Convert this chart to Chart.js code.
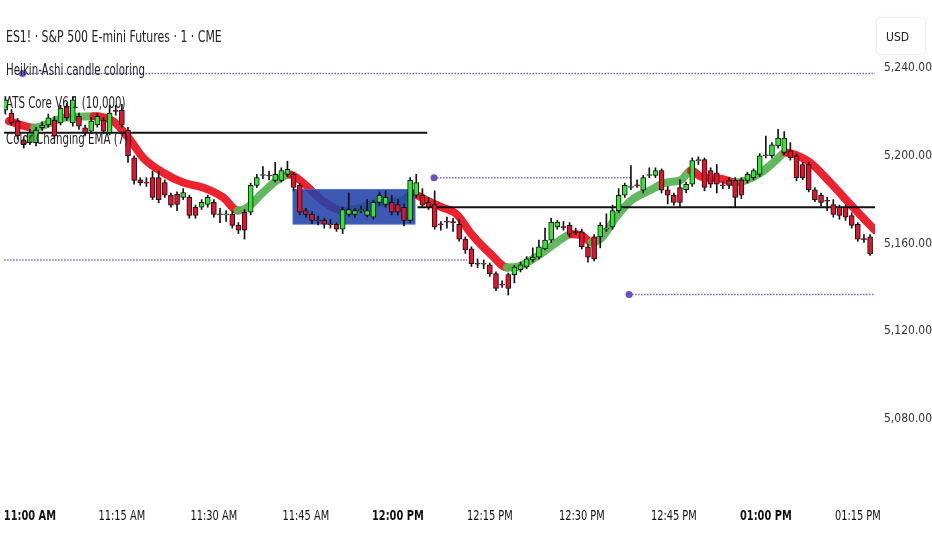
<!DOCTYPE html>
<html><head><meta charset="utf-8">
<script src="https://cdn.jsdelivr.net/npm/chart.js@4/dist/chart.umd.min.js"></script>
<style>
html,body{margin:0;padding:0;background:#fff;}
#wrap{position:relative;width:932px;height:550px;}
canvas{position:absolute;left:0;top:0;}
.t{position:absolute;left:6px;font-family:'Liberation Sans Narrow','DejaVu Sans Condensed',sans-serif;color:#222;white-space:nowrap;transform:scaleX(0.76);transform-origin:0 0;}
#usd{position:absolute;left:876px;top:17px;width:50px;height:38px;border:1px solid #eee;border-radius:5px;box-shadow:0 0 3px #eee;font:12px 'Liberation Sans Narrow','DejaVu Sans Condensed',sans-serif;color:#222;line-height:38px;padding-left:9px;box-sizing:border-box;}
</style></head><body>
<div id="wrap"><canvas id="c" width="932" height="550"></canvas>
<div class="t" style="top:27px;font-size:16px">ES1! · S&amp;P 500 E-mini Futures · 1 · CME</div>
<div class="t" style="top:61px;font-size:15px">Heikin-Ashi candle coloring</div>
<div class="t" style="top:94px;font-size:15px">ATS Core V6.1 (10,000)</div>
<div class="t" style="top:130px;font-size:15px">Color Changing EMA (7)</div>
<div id="usd">USD</div>
</div>
<script>
const minutes0 = -4;
const opens = [5220.75,5219.5,5215.75,5207.25,5206,5206,5212.75,5214,5216.25,5215,5222.5,5215,5218,5212.75,5211.25,5214,5216.25,5210.5,5220.5,5220.75,
5211.75,5199,5189,5187.75,5190,5190,5187.75,5182,5182.5,5181,5181,5176.5,5176.5,5177.75,5178.75,5173.25,5173,5173.25,5168.25,5174.25,
5174.25,5186.5,5191,5191,5188.75,5188.75,5191.5,5191.5,5186.5,5175,5173.25,5170.5,5170.5,5168.75,5168.75,5166.5,5173.25,5173.25,5175,5172.75,
5172,5178.75,5177.75,5178.75,5177.75,5176.5,5170.5,5182,5182,5178.75,5177.75,5168.75,5170,5169.75,5168.75,5162,5157.5,5150.75,5150.5,5150.25,
5146.25,5141.25,5145.75,5145.75,5148,5149.25,5152.5,5153.75,5157.5,5161.5,5167.5,5167.5,5168.25,5165.25,5165.25,5158.5,5163,5163,5166.5,5167.5,
5175,5182,5185.5,5186.5,5184.25,5191,5191,5193.25,5184.5,5182,5185.5,5184.5,5187,5197.75,5198.25,5193.25,5192.25,5186.5,5188.75,5188.75,
5189,5188.75,5190,5191.5,5200,5200,5204.5,5201.5,5202.25,5200,5196,5196,5184.5,5182,5179.5,5177.75,5176.5,5176.5,5172.75,5168.75,5162,5163];
const closes = [5225.5,5215,5209,5205,5210.5,5211.75,5214,5217.25,5209,5221.75,5217.25,5225.5,5213.5,5210.5,5215.75,5218,5211.25,5219.5,5220.25,5214,
5200,5188.75,5187.75,5187.5,5181,5180,5182,5177.5,5177.75,5183.25,5172.75,5172.75,5178.75,5181,5173.25,5173,5173.25,5168.25,5166,5166,
5186.5,5190,5191.25,5190.75,5191.5,5193.25,5193.75,5185.5,5174.25,5173.25,5170.5,5170.25,5168.75,5168.5,5166.5,5175.5,5175.5,5175,5175.25,5175,
5178.75,5182,5181,5174.25,5174.25,5170.5,5188.75,5187.75,5177.5,5176.5,5167.5,5168.5,5169.75,5169.5,5162,5157,5150.75,5150.5,5150.75,5146.25,
5139.5,5141,5139.5,5149.25,5150.25,5153,5153.75,5158.5,5161.5,5169.75,5169.75,5167.25,5164.25,5165,5158.5,5153.75,5153,5168.25,5166.75,5175,
5182,5186.5,5185.75,5186.25,5190,5191.25,5193.25,5184.25,5182,5178.75,5178.75,5187,5197.75,5198,5185.5,5187,5187,5186.25,5186.5,5181,
5182,5191.5,5193.25,5200,5200.25,5205,5208,5208,5199,5190,5190,5184.5,5180,5178.75,5179.25,5173.25,5172.75,5172,5168.25,5162,5161.75,5155.25];
const highs = [5227,5221,5217,5208.5,5212,5213,5215.5,5219,5218,5223,5224,5227,5219.5,5214,5217.5,5219.5,5217.5,5223,5223,5223.5,
5213,5200,5190,5190,5193,5193,5189,5183,5183.5,5185,5182,5177.5,5180,5182,5180,5176,5175,5174.5,5169.5,5175.5,
5187.5,5191.5,5195,5193,5197,5194.5,5197.5,5192.5,5187.5,5176,5174.5,5172.5,5171.5,5171,5169.5,5176.5,5183,5176,5177,5180,
5179.5,5183.5,5184,5182,5180,5178,5190,5191.5,5185,5181,5184,5170,5172,5171.5,5171,5163,5158.5,5153,5152.5,5151,
5147,5143,5146.5,5150,5151.5,5154,5158,5161.5,5167,5171.5,5170.5,5170,5169.5,5167,5166.5,5159.5,5164,5169.5,5173.5,5177.5,
5185,5187.5,5195.5,5189,5191,5194.5,5194.5,5194,5186,5183,5189,5188,5199,5199.5,5199,5194.5,5196,5188,5190,5190,
5190,5192.5,5194,5201,5209,5206,5212,5211,5206,5201,5197,5197,5185.5,5183,5181,5180,5177.5,5177.5,5174,5169.5,5164,5164];
const lows = [5219,5214,5207.5,5203.5,5205,5204.5,5211.5,5213,5208,5214,5216,5213.5,5212,5209,5210,5213,5210,5209.5,5218.5,5213,
5197,5187,5186.5,5186,5180,5178.5,5181,5176.5,5175,5180,5171.5,5171.5,5175.5,5176.5,5172,5169.5,5170,5167,5164.5,5162,
5173,5185.5,5189.5,5189,5188,5188,5190.5,5184,5173,5172,5169,5168.5,5167,5167,5165.5,5164.5,5172.5,5172,5174,5172,
5171,5177.5,5176.5,5173,5173,5168,5169.5,5181,5176.5,5175.5,5166.5,5166,5167,5165.5,5161,5155.5,5149.5,5149,5148.5,5145,
5138.5,5140,5136.5,5142,5147,5148.5,5151.5,5153,5157,5160.5,5166.5,5166,5163,5164,5157.5,5151.5,5152,5158,5165.5,5166.5,
5174,5181,5184.5,5185.5,5183,5190,5190,5183,5178,5177.5,5176.5,5183,5186,5196,5184,5185.5,5183,5185,5185,5176.5,
5180.5,5187.5,5189,5190.5,5199,5199,5203.5,5200.5,5198,5188.5,5189,5183.5,5179,5177,5175,5172,5171,5170.5,5167,5161,5160.5,5154.5];
const emaMinutes = [-3.4,0.65,5.5,10.4,13.6,16.1,18.5,21.75,25,28.2,31.5,33.9,35.5,38,40.4,42.4,44.5,47.7,51,54.2,57.3,60.7,62.3,64.8,67.2,69.6,72,75.3,77.8,79.4,82.5,85.9,88.3,89.9,91.6,93.2,95.6,98,101.3,103.7,106.2,107.8,109.4,112.7,115.1,116.7,119.2,121.6,123.2,124.8,127.3,130.5,133.8,137.8];
const emaValues = [5215.75,5212.75,5217.25,5218,5215.75,5208.1,5199,5192.25,5187.75,5185.5,5181,5175,5176.5,5183.25,5189,5191.5,5187.75,5179.5,5175,5176.5,5178.75,5179.5,5182.5,5179.5,5176.5,5173.25,5164.25,5154.75,5149,5149.25,5153.75,5160.5,5164.25,5163.75,5160.5,5162.5,5172,5179.5,5184.5,5187.75,5189,5193.25,5190.5,5189.5,5187.75,5188.75,5192.25,5197.75,5201.5,5200.5,5196.75,5187.75,5177.75,5166];
const yTicks = [5080,5120,5160,5200,5240];
const xTickMinutes = [0,15,30,45,60,75,90,105,120,135];
const xTickLabels = ['11:00 AM','11:15 AM','11:30 AM','11:45 AM','12:00 PM','12:15 PM','12:30 PM','12:45 PM','01:00 PM','01:15 PM'];
const boldLabels = ['11:00 AM','12:00 PM','01:00 PM'];
const blackLevels = [{y:5210.5,from:-4.2,to:64.8},{y:5176.5,from:63.2,to:137.8}];
const dottedLevels = [{y:5237.5,from:-1.2,to:137.8},{y:5152.5,from:-4.2,to:71.3,nodot:true},{y:5190,from:65.9,to:98},{y:5136.75,from:97.7,to:137.8}];
const boxRange = {x0:42.9,x1:62.8,y0:5168.8,y1:5184.6};

const GREEN='#33e633', RED='#e0142e';
const FONT="'Liberation Sans Narrow','DejaVu Sans Condensed',sans-serif";
const bodies=[], wicks=[], cols=[];
for(let i=0;i<opens.length;i++){
  const m=minutes0+i;
  bodies.push({x:m,y:[opens[i],closes[i]]});
  wicks.push({x:m,y:[lows[i],highs[i]]});
  cols.push(closes[i]>=opens[i]?GREEN:RED);
}
const datasets=[];
datasets.push({type:'line',data:emaMinutes.map((m,i)=>({x:m,y:emaValues[i]})),borderWidth:8,pointRadius:0,tension:0.4,cubicInterpolationMode:'monotone',order:10,
  segment:{borderColor:c=>c.p1.parsed.y>=c.p0.parsed.y?'rgba(90,180,85,0.95)':'rgba(236,22,36,0.95)'},borderColor:'red',borderCapStyle:'round'});
blackLevels.forEach(l=>datasets.push({type:'line',data:[{x:l.from,y:l.y},{x:l.to,y:l.y}],borderColor:'#111',borderWidth:2,pointRadius:0,order:5}));
dottedLevels.forEach(l=>datasets.push({type:'line',data:[{x:l.from,y:l.y},{x:l.to,y:l.y}],borderColor:'#7466d0',borderWidth:1.5,borderDash:[1.5,1.5],
  pointRadius:[l.nodot?0:3.5,0],pointBackgroundColor:'#6a50c8',pointBorderWidth:0,order:5}));
datasets.push({type:'bar',data:wicks,backgroundColor:'#111',barThickness:1,grouped:false,order:2});
datasets.push({type:'bar',data:bodies,backgroundColor:cols,borderColor:'#111',borderWidth:1,borderSkipped:false,barThickness:5,minBarLength:1,grouped:false,order:1});

const boxPlugin={id:'box',afterDatasetDraw(chart,args){
  if(args.index!==0)return;
  const {ctx,scales:{x,y}}=chart;
  const X0=x.getPixelForValue(boxRange.x0),X1=x.getPixelForValue(boxRange.x1);
  const Y0=y.getPixelForValue(boxRange.y1),Y1=y.getPixelForValue(boxRange.y0);
  ctx.save();ctx.fillStyle='rgba(34,66,168,0.88)';ctx.fillRect(X0,Y0,X1-X0,Y1-Y0);
  ctx.strokeStyle='rgba(70,110,210,0.9)';ctx.lineWidth=1;ctx.strokeRect(X0,Y0,X1-X0,Y1-Y0);ctx.restore();
},
afterDraw(chart){
  const {ctx,scales:{x}}=chart;
  ctx.save();ctx.textAlign='center';ctx.textBaseline='middle';ctx.fillStyle='#111';
  xTickMinutes.forEach((v,i)=>{
    ctx.save();
    ctx.translate(x.getPixelForValue(v),x.top+16);ctx.scale(0.78,1);
    ctx.font=(boldLabels.includes(xTickLabels[i])?'bold ':'')+'14px '+FONT;
    ctx.fillText(xTickLabels[i],0,0);
    ctx.restore();
  });
  ctx.restore();
}};
new Chart(document.getElementById('c'),{
  type:'bar',data:{datasets},
  options:{responsive:false,animation:false,events:[],
    layout:{padding:0},
    plugins:{legend:{display:false},tooltip:{enabled:false}},
    scales:{
      x:{type:'linear',offset:false,min:-4.22,max:137.8,grid:{display:false,offset:false},border:{display:false},
        afterFit(s){s.height=50;},
        afterBuildTicks(s){s.ticks=xTickMinutes.map(v=>({value:v}));},
        ticks:{display:false}},
      y:{position:'right',min:5043,max:5269.2,grid:{display:false,drawTicks:false},border:{display:false},
        afterFit(s){s.width=57;s.paddingTop=0;s.paddingBottom=0;},
        afterBuildTicks(s){s.ticks=yTicks.map(v=>({value:v}));},
        ticks:{padding:9,color:'#333',font:{family:FONT,size:12},
          callback:v=>v.toLocaleString('en-US',{minimumFractionDigits:2})}}
    }},
  plugins:[boxPlugin]
});
</script></body></html>
